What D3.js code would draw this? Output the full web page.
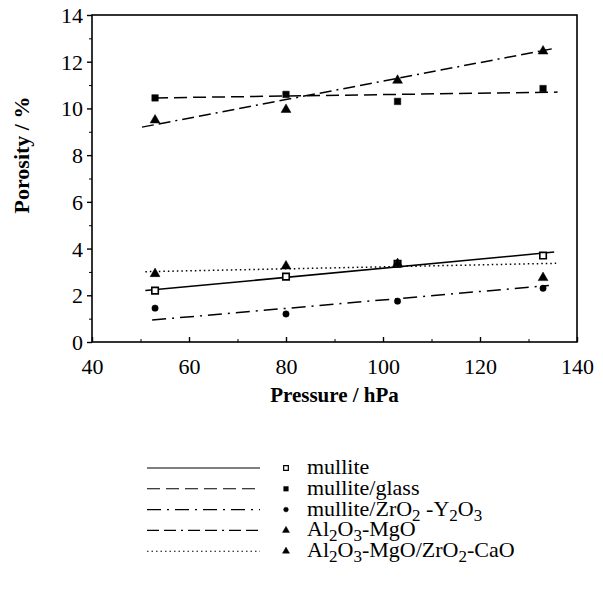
<!DOCTYPE html>
<html>
<head>
<meta charset="utf-8">
<script src="https://cdn.jsdelivr.net/npm/d3@7"></script>
<style>
  body { margin: 0; background: #fff; }
</style>
</head>
<body>
<svg id="chart" width="603" height="608"></svg>
<script>
// datos (presión en hPa, porosidad en %)
const pressures = [53, 80, 103, 133];
const mullite = [2.2, 2.8, 3.35, 3.7];
const mulliteGlass = [10.45, 10.6, 10.3, 10.85];
const mulliteZrY = [1.45, 1.2, 1.75, 2.3];
const aluMgO = [9.5, 9.95, 11.2, 12.45];
const aluMgOZrCa = [2.92, 3.25, 3.35, 2.75];

// rectas de ajuste: [x0, y0, x1, y1]
const fitMullite = [51, 2.2, 135.3, 3.85];
const fitGlass = [53, 10.45, 136, 10.7];
const fitZrY = [52.4, 0.94, 134.2, 2.42];
const fitMgO = [50.3, 9.2, 134.8, 12.55];
const fitMgOZrCa = [51, 3.01, 135.7, 3.37];

const xTicks = [40, 60, 80, 100, 120, 140];
const yTicks = [0, 2, 4, 6, 8, 10, 12, 14];

const SERIF = '"Liberation Serif", "Times New Roman", Times, "DejaVu Serif", serif';

const series = [
  { vals: mullite, fit: fitMullite, dash: null, sym: d3.symbolSquare, fill: false,
    label: [['mullite']] },
  { vals: mulliteGlass, fit: fitGlass, dash: '13,6', sym: d3.symbolSquare, fill: true,
    label: [['mullite/glass']] },
  { vals: mulliteZrY, fit: fitZrY, dash: '14,6,2,6', sym: d3.symbolCircle, fill: true,
    label: [['mullite/ZrO'], ['2', 'sub'], [' -Y'], ['2', 'sub'], ['O'], ['3', 'sub']] },
  { vals: aluMgO, fit: fitMgO, dash: '12,5,12,5,2,5', sym: d3.symbolTriangle, fill: true,
    label: [['Al'], ['2', 'sub'], ['O'], ['3', 'sub'], ['-MgO']] },
  { vals: aluMgOZrCa, fit: fitMgOZrCa, dash: '1.5,3', sym: d3.symbolTriangle, fill: true,
    label: [['Al'], ['2', 'sub'], ['O'], ['3', 'sub'], ['-MgO/ZrO'], ['2', 'sub'], ['-CaO']] }
];

const svg = d3.select('#chart');
const x = d3.scaleLinear().domain([40, 140]).range([92, 577]);
const y = d3.scaleLinear().domain([0, 14]).range([342, 15]);

// marco
svg.append('rect')
  .attr('x', x(40)).attr('y', y(14))
  .attr('width', x(140) - x(40)).attr('height', y(0) - y(14))
  .attr('fill', 'none').attr('stroke', '#000').attr('stroke-width', 1.6);

// eje x (ticks hacia dentro)
const gx = svg.append('g').attr('transform', `translate(0,${y(0)})`)
  .call(d3.axisBottom(x).tickValues(xTicks).tickSize(-5).tickPadding(16));
gx.select('.domain').remove();
gx.selectAll('text').style('font-size', '22px').style('font-family', SERIF);
gx.selectAll('line').attr('stroke-width', 1.4);
svg.append('g').attr('transform', `translate(0,${y(0)})`)
  .call(d3.axisBottom(x).tickValues(d3.range(50, 140, 20)).tickSize(-3).tickFormat(''))
  .call(g => g.select('.domain').remove());

// eje y (ticks hacia fuera)
const gy = svg.append('g').attr('transform', `translate(${x(40)},0)`)
  .call(d3.axisLeft(y).tickValues(yTicks).tickSize(5).tickPadding(4));
gy.select('.domain').remove();
gy.selectAll('text').style('font-size', '22px').style('font-family', SERIF).attr('dy', '0.34em');
gy.selectAll('line').attr('stroke-width', 1.4);
svg.append('g').attr('transform', `translate(${x(40)},0)`)
  .call(d3.axisLeft(y).tickValues(d3.range(1, 14, 2)).tickSize(3).tickFormat(''))
  .call(g => g.select('.domain').remove());

// títulos
svg.append('text')
  .attr('x', (x(40) + x(140)) / 2).attr('y', 402)
  .attr('text-anchor', 'middle')
  .style('font-family', SERIF).style('font-weight', 'bold').style('font-size', '21px')
  .text('Pressure / hPa');
svg.append('text')
  .attr('transform', 'translate(29,155) rotate(-90)')
  .attr('text-anchor', 'middle')
  .style('font-family', SERIF).style('font-weight', 'bold').style('font-size', '22px')
  .text('Porosity / %');

// rectas y puntos
const plot = svg.append('g');
series.forEach(s => {
  plot.append('line')
    .attr('x1', x(s.fit[0])).attr('y1', y(s.fit[1]))
    .attr('x2', x(s.fit[2])).attr('y2', y(s.fit[3]))
    .attr('stroke', '#000').attr('stroke-width', 1.5)
    .attr('stroke-dasharray', s.dash);
  plot.selectAll(null)
    .data(s.vals.map((v, i) => [pressures[i], v]))
    .join('path')
    .attr('transform', d => `translate(${x(d[0])},${y(d[1])})`)
    .attr('d', d3.symbol().type(s.sym).size(s.sym === d3.symbolCircle ? 32 : 42))
    .attr('fill', s.fill ? '#000' : '#fff')
    .attr('stroke', '#000').attr('stroke-width', s.fill ? 0.5 : 1.6);
});

// leyenda
const legend = svg.append('g');
series.forEach((s, i) => {
  const ly = 468 + i * 20.8;
  legend.append('line')
    .attr('x1', 147).attr('x2', 260).attr('y1', ly).attr('y2', ly)
    .attr('stroke', '#000').attr('stroke-width', 1.1)
    .attr('stroke-dasharray', s.dash);
  legend.append('path')
    .attr('transform', `translate(286,${ly})`)
    .attr('d', d3.symbol().type(s.sym).size(s.sym === d3.symbolCircle ? 18 : 22))
    .attr('fill', s.fill ? '#000' : '#fff')
    .attr('stroke', '#000').attr('stroke-width', s.fill ? 0.4 : 1.2);
  const t = legend.append('text')
    .attr('x', 307).attr('y', ly + 6)
    .style('font-family', SERIF).style('font-size', '22px');
  s.label.forEach(([txt, kind], j) => {
    const sp = t.append('tspan').text(txt);
    if (kind === 'sub') sp.attr('dy', 5).style('font-size', '17px');
    else if (j > 0) sp.attr('dy', -5);
  });
});
</script>
</body>
</html>
